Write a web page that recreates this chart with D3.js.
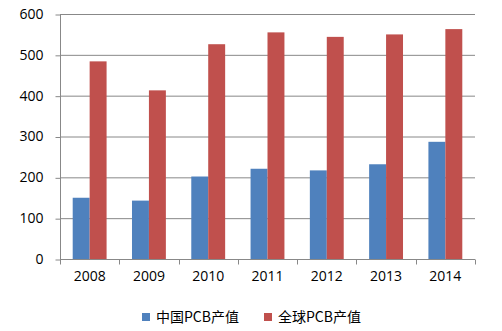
<!DOCTYPE html>
<html><head><meta charset="utf-8">
<script src="https://cdn.jsdelivr.net/npm/d3@7/dist/d3.min.js"></script>
<style>body{margin:0;background:#fff}svg{display:block}</style>
</head><body>
<svg id="c" width="502" height="331"></svg>
<script>
const years = ["2008","2009","2010","2011","2012","2013","2014"];
const chinaPCB = [150,143,202,221,217,232,287];
const globalPCB = [484,413,526,555,544,550,563];
const yTicks = [0,100,200,300,400,500,600];
const seriesNames = ["中国PCB产值","全球PCB产值"];
const colors = ["#4F81BD","#C0504D"];

const svg = d3.select("#c");
const m = {l:60, r:475, t:14, b:259};
const x = d3.scaleBand().domain(years).range([m.l, m.r]);
const y = d3.scaleLinear().domain([0,600]).range([m.b, m.t]);
const font = "'Open Sans', 'Liberation Sans', Arial, sans-serif";

// gridlines
svg.append("g").selectAll("line").data(yTicks.filter(d=>d>0)).join("line")
  .attr("x1", m.l).attr("x2", m.r)
  .attr("y1", d=>y(d)+0.5).attr("y2", d=>y(d)+0.5)
  .attr("stroke","#888").attr("stroke-width",1);

// bars
const bw = x.bandwidth()/3.5;
const series = [chinaPCB, globalPCB];
series.forEach((vals, si) => {
  svg.append("g").selectAll("rect").data(years).join("rect")
    .attr("x", (d)=> x(d) + (x.bandwidth()-2*bw)/2 + si*bw)
    .attr("width", bw)
    .attr("y", (d,i)=> y(vals[i]))
    .attr("height", (d,i)=> y(0)-y(vals[i]))
    .attr("fill", colors[si]);
});

// y axis
const yAxis = d3.axisLeft(y).tickValues(yTicks).tickSize(5).tickPadding(12);
const gy = svg.append("g").attr("transform",`translate(${m.l+0.5},0)`).call(yAxis);
gy.select(".domain").attr("stroke","#888").attr("d",`M0,${m.t}V${m.b}`);
gy.selectAll(".tick line").attr("stroke","#888").attr("transform","translate(0,0.5)");
gy.selectAll("text").attr("font-family",font).attr("font-size",14).attr("fill","#000");

// x axis
const xAxis = d3.axisBottom(x).tickSize(0).tickPadding(12);
const gx = svg.append("g").attr("transform",`translate(0,${m.b+0.5})`).call(xAxis);
gx.select(".domain").attr("stroke","#888").attr("d",`M${m.l},0H${m.r}`);
gx.selectAll("text").attr("font-family",font).attr("font-size",14).attr("fill","#000");
// category boundary ticks
const bounds = years.map(d=>x(d)).concat([m.r]);
gx.append("g").selectAll("line").data(bounds).join("line")
  .attr("x1",d=>Math.round(d)+0.5).attr("x2",d=>Math.round(d)+0.5)
  .attr("y1",0).attr("y2",5).attr("stroke","#888");

// legend
const lg = svg.append("g");
const lx = [142, 264];
seriesNames.forEach((n,i)=>{
  lg.append("rect").attr("x",lx[i]).attr("y",313).attr("width",8).attr("height",8).attr("fill",colors[i]);
  lg.append("text").attr("x",lx[i]+14).attr("y",317).attr("dy","0.35em")
    .attr("font-family","'Noto Sans CJK SC', sans-serif").attr("font-size",14).attr("fill","#000").text(n);
});
</script>
</body></html>
